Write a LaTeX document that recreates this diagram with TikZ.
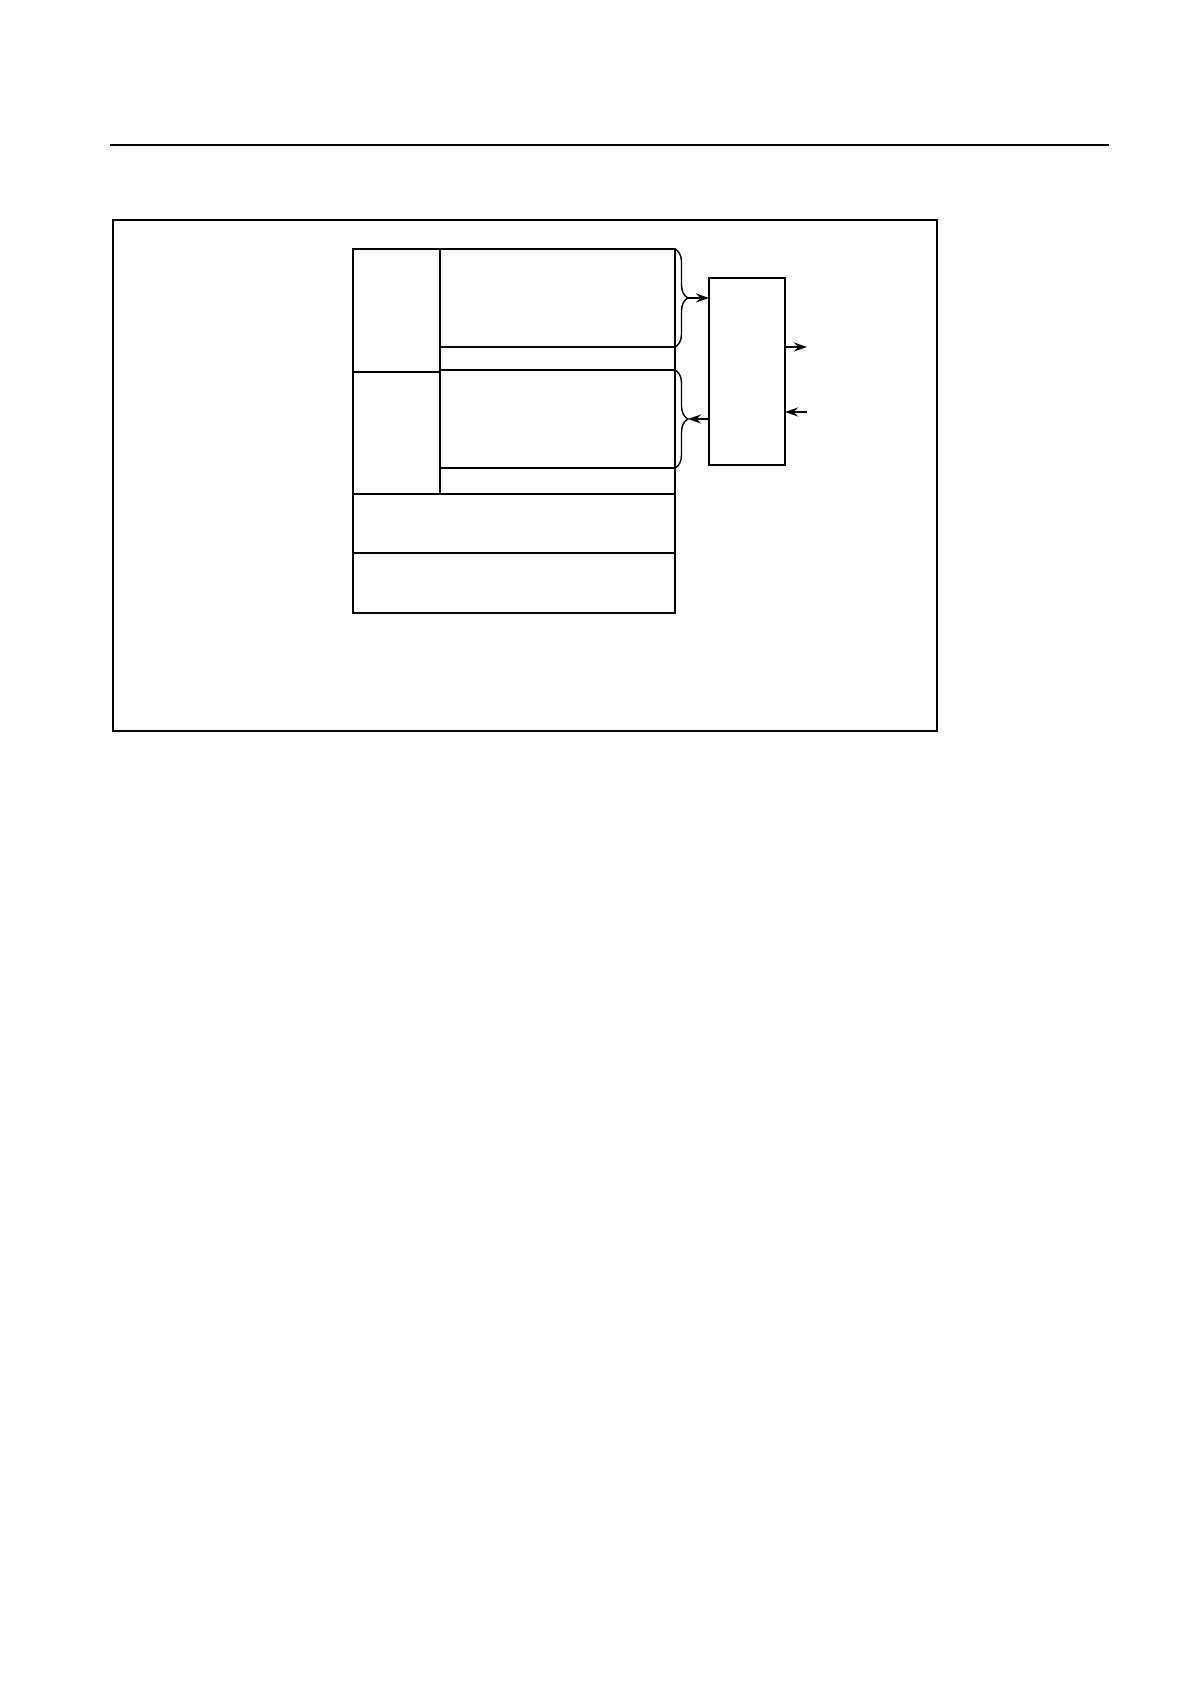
\documentclass[tikz,border=0pt]{standalone}
\usetikzlibrary{arrows.meta,decorations.pathreplacing}

\begin{document}
\begin{tikzpicture}
	[x=0.5pt,y=-0.5pt,
	 cell/.style={draw,line width=0.65pt,anchor=north west,inner sep=0pt,outer sep=0pt,minimum width=#1},
	 cell/.default=117.5pt,
	 heavy/.style={line width=1.1pt},
	 bracepre/.style={decorate,decoration={brace,amplitude=6.5pt},line width=0.7pt},
	 arrowpre/.style={-{Stealth[length=6.5pt,width=4.5pt]},line width=0.7pt}];
\useasboundingbox (0,0) rectangle (1190,1684);
% header rule and frame
\coordinate (hl) at (110,145);
\coordinate (hr) at (1109,145);
\draw[line width=0.7pt] (hl) -- (hr);
\draw[line width=0.9pt] (113,220) rectangle (937,731);

% left column
\node[cell=43.5pt,minimum height=61.5pt] (cellA) at (353,249) {};
\node[cell=43.5pt,minimum height=61pt] (cellB) at (353,372) {};
% wide rows
\node[cell,minimum height=49pt] (rowA) at (440,249) {};
\node[cell,minimum height=11.5pt] (gapA) at (440,347) {};
\node[cell,minimum height=49pt] (rowB) at (440,370) {};
\node[cell,minimum height=13pt] (gapB) at (440,468) {};
% lower rows
\node[cell=161pt,minimum height=29.5pt] (lowA) at (353,494) {};
\node[cell=161pt,minimum height=30pt] (lowB) at (353,553) {};

% control box
\node[cell=38pt,minimum height=93.5pt] (ctrl) at (709,278) {};

% heavier edges
\draw[heavy] (cellA.north west) -- (rowA.north east) -- (rowA.south east);
\draw[heavy] (rowA.north west) -- (rowA.north west |- cellB.south);
\draw[heavy] (lowA.north west) -- (lowA.north east);
\draw[heavy] (ctrl.north west) -- (ctrl.north east);

% braces
\draw[bracepre] (rowA.north east) -- (rowA.south east);
\draw[bracepre] (rowB.north east) -- (rowB.south east);
\coordinate (tipA) at ([xshift=6.5pt]rowA.east);
\coordinate (tipB) at ([xshift=6.5pt]rowB.east);

\draw[arrowpre] (tipA) -- (ctrl.west |- tipA);
\draw[arrowpre] (ctrl.west |- tipB) -- (tipB);

% outside signals
\coordinate (outE) at (807,347);
\coordinate (inE) at (807,412);
\draw[arrowpre] (ctrl.east |- outE) -- (outE);
\draw[arrowpre] (inE) -- (ctrl.east |- inE);
\end{tikzpicture}
\end{document}
